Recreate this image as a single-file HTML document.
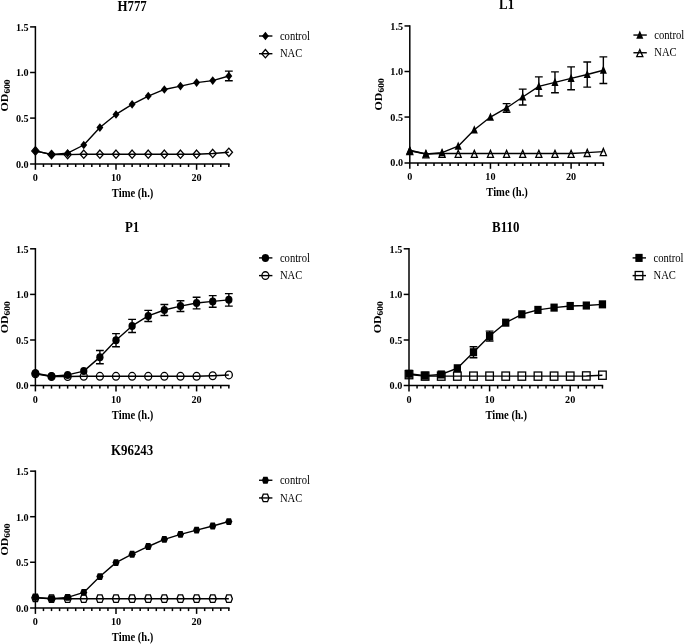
<!DOCTYPE html>
<html><head><meta charset="utf-8"><style>
html,body{margin:0;padding:0;background:#fff;}
body{width:685px;height:644px;overflow:hidden;}
svg{display:block;filter:grayscale(1);}
text{font-family:"Liberation Serif",serif;fill:#000;}
.tt{font-size:12.9px;font-weight:bold;}
.tk{font-size:10.2px;font-weight:bold;}
.xl{font-size:10.6px;font-weight:bold;}
.od{font-size:11px;font-weight:bold;}
.sub{font-size:8.8px;}
.lg{font-size:10.6px;}
</style></head><body>
<svg width="685" height="644" viewBox="0 0 685 644">
<rect width="685" height="644" fill="#fff"/>
<g><path d="M35.4 26.15V169.8" stroke="#000" stroke-width="1.5" fill="none"/><path d="M30.1 164H229.59" stroke="#000" stroke-width="1.5" fill="none"/><path d="M30.1 118.1H35.4" stroke="#000" stroke-width="1.5"/><path d="M30.1 72.5H35.4" stroke="#000" stroke-width="1.5"/><path d="M30.1 26.9H35.4" stroke="#000" stroke-width="1.5"/><path d="M43.46 164V167" stroke="#000" stroke-width="1.5"/><path d="M51.52 164V167" stroke="#000" stroke-width="1.5"/><path d="M59.58 164V167" stroke="#000" stroke-width="1.5"/><path d="M67.64 164V167" stroke="#000" stroke-width="1.5"/><path d="M75.7 164V167" stroke="#000" stroke-width="1.5"/><path d="M83.76 164V167" stroke="#000" stroke-width="1.5"/><path d="M91.82 164V167" stroke="#000" stroke-width="1.5"/><path d="M99.88 164V167" stroke="#000" stroke-width="1.5"/><path d="M107.94 164V167" stroke="#000" stroke-width="1.5"/><path d="M116 164V169.8" stroke="#000" stroke-width="1.5"/><path d="M124.06 164V167" stroke="#000" stroke-width="1.5"/><path d="M132.12 164V167" stroke="#000" stroke-width="1.5"/><path d="M140.18 164V167" stroke="#000" stroke-width="1.5"/><path d="M148.24 164V167" stroke="#000" stroke-width="1.5"/><path d="M156.3 164V167" stroke="#000" stroke-width="1.5"/><path d="M164.36 164V167" stroke="#000" stroke-width="1.5"/><path d="M172.42 164V167" stroke="#000" stroke-width="1.5"/><path d="M180.48 164V167" stroke="#000" stroke-width="1.5"/><path d="M188.54 164V167" stroke="#000" stroke-width="1.5"/><path d="M196.6 164V169.8" stroke="#000" stroke-width="1.5"/><path d="M204.66 164V167" stroke="#000" stroke-width="1.5"/><path d="M212.72 164V167" stroke="#000" stroke-width="1.5"/><path d="M220.78 164V167" stroke="#000" stroke-width="1.5"/><path d="M228.84 164V167" stroke="#000" stroke-width="1.5"/><text transform="translate(28.7 167.5) scale(1 1.06)" text-anchor="end" class="tk">0.0</text><text transform="translate(28.7 121.9) scale(1 1.06)" text-anchor="end" class="tk">0.5</text><text transform="translate(28.7 76.3) scale(1 1.06)" text-anchor="end" class="tk">1.0</text><text transform="translate(28.7 30.7) scale(1 1.06)" text-anchor="end" class="tk">1.5</text><text transform="translate(35.4 180.8) scale(1 1.06)" text-anchor="middle" class="tk">0</text><text transform="translate(116 180.8) scale(1 1.06)" text-anchor="middle" class="tk">10</text><text transform="translate(196.6 180.8) scale(1 1.06)" text-anchor="middle" class="tk">20</text><text transform="translate(132.62 197) scale(1 1.1)" text-anchor="middle" class="xl">Time (h.)</text><text transform="translate(7.6 95.4) rotate(-90) scale(1.08 1)" text-anchor="middle" class="od">OD<tspan class="sub" dy="2">600</tspan></text><text transform="translate(132.12 10.6) scale(1 1.13)" text-anchor="middle" class="tt">H777</text><path d="M35.4 150.93L51.52 154.58L67.64 154.58L83.76 154.22L99.88 154.22L116 154.22L132.12 154.22L148.24 154.22L164.36 154.22L180.48 154.22L196.6 154.22L212.72 153.49L228.84 152.3" fill="none" stroke="#000" stroke-width="1.4" stroke-linejoin="round"/><path d="M35.4 146.78L39.05 150.93L35.4 155.08L31.75 150.93Z" fill="none" stroke="#000" stroke-width="1.3"/><path d="M51.52 150.43L55.17 154.58L51.52 158.73L47.87 154.58Z" fill="none" stroke="#000" stroke-width="1.3"/><path d="M67.64 150.43L71.29 154.58L67.64 158.73L63.99 154.58Z" fill="none" stroke="#000" stroke-width="1.3"/><path d="M83.76 150.07L87.41 154.22L83.76 158.37L80.11 154.22Z" fill="none" stroke="#000" stroke-width="1.3"/><path d="M99.88 150.07L103.53 154.22L99.88 158.37L96.23 154.22Z" fill="none" stroke="#000" stroke-width="1.3"/><path d="M116 150.07L119.65 154.22L116 158.37L112.35 154.22Z" fill="none" stroke="#000" stroke-width="1.3"/><path d="M132.12 150.07L135.77 154.22L132.12 158.37L128.47 154.22Z" fill="none" stroke="#000" stroke-width="1.3"/><path d="M148.24 150.07L151.89 154.22L148.24 158.37L144.59 154.22Z" fill="none" stroke="#000" stroke-width="1.3"/><path d="M164.36 150.07L168.01 154.22L164.36 158.37L160.71 154.22Z" fill="none" stroke="#000" stroke-width="1.3"/><path d="M180.48 150.07L184.13 154.22L180.48 158.37L176.83 154.22Z" fill="none" stroke="#000" stroke-width="1.3"/><path d="M196.6 150.07L200.25 154.22L196.6 158.37L192.95 154.22Z" fill="none" stroke="#000" stroke-width="1.3"/><path d="M212.72 149.34L216.37 153.49L212.72 157.64L209.07 153.49Z" fill="none" stroke="#000" stroke-width="1.3"/><path d="M228.84 148.15L232.49 152.3L228.84 156.45L225.19 152.3Z" fill="none" stroke="#000" stroke-width="1.3"/><path d="M35.4 151.02L51.52 154.4L67.64 153.21L83.76 145L99.88 127.58L116 114.45L132.12 104.33L148.24 96.03L164.36 89.46L180.48 86.09L196.6 82.62L212.72 80.62L228.84 75.97" fill="none" stroke="#000" stroke-width="1.4" stroke-linejoin="round"/><path d="M228.84 71.13V80.8 M224.94 71.13H232.74 M224.94 80.8H232.74" stroke="#000" stroke-width="1.4" fill="none"/><path d="M35.4 146.72L38.85 151.02L35.4 155.32L31.95 151.02Z"/><path d="M51.52 150.1L54.97 154.4L51.52 158.7L48.07 154.4Z"/><path d="M67.64 148.91L71.09 153.21L67.64 157.51L64.19 153.21Z"/><path d="M83.76 140.7L87.21 145L83.76 149.3L80.31 145Z"/><path d="M99.88 123.28L103.33 127.58L99.88 131.88L96.43 127.58Z"/><path d="M116 110.15L119.45 114.45L116 118.75L112.55 114.45Z"/><path d="M132.12 100.03L135.57 104.33L132.12 108.63L128.67 104.33Z"/><path d="M148.24 91.73L151.69 96.03L148.24 100.33L144.79 96.03Z"/><path d="M164.36 85.16L167.81 89.46L164.36 93.76L160.91 89.46Z"/><path d="M180.48 81.79L183.93 86.09L180.48 90.39L177.03 86.09Z"/><path d="M196.6 78.32L200.05 82.62L196.6 86.92L193.15 82.62Z"/><path d="M212.72 76.32L216.17 80.62L212.72 84.92L209.27 80.62Z"/><path d="M228.84 71.67L232.29 75.97L228.84 80.27L225.39 75.97Z"/><path d="M259 36H272.4" stroke="#000" stroke-width="1.4"/><path d="M265.4 31.7L268.85 36L265.4 40.3L261.95 36Z"/><text transform="translate(279.9 39.7) scale(1 1.1)" class="lg">control</text><path d="M259 53.7H272.4" stroke="#000" stroke-width="1.4"/><path d="M265.4 49.55L269.05 53.7L265.4 57.85L261.75 53.7Z" fill="none" stroke="#000" stroke-width="1.3"/><text transform="translate(279.9 57.4) scale(1 1.1)" class="lg">NAC</text></g>
<g><path d="M409.8 25.2V168.8" stroke="#000" stroke-width="1.5" fill="none"/><path d="M404.5 163H604.11" stroke="#000" stroke-width="1.5" fill="none"/><path d="M404.5 117.05H409.8" stroke="#000" stroke-width="1.5"/><path d="M404.5 71.5H409.8" stroke="#000" stroke-width="1.5"/><path d="M404.5 25.95H409.8" stroke="#000" stroke-width="1.5"/><path d="M417.87 163V166" stroke="#000" stroke-width="1.5"/><path d="M425.93 163V166" stroke="#000" stroke-width="1.5"/><path d="M434 163V166" stroke="#000" stroke-width="1.5"/><path d="M442.06 163V166" stroke="#000" stroke-width="1.5"/><path d="M450.12 163V166" stroke="#000" stroke-width="1.5"/><path d="M458.19 163V166" stroke="#000" stroke-width="1.5"/><path d="M466.25 163V166" stroke="#000" stroke-width="1.5"/><path d="M474.32 163V166" stroke="#000" stroke-width="1.5"/><path d="M482.38 163V166" stroke="#000" stroke-width="1.5"/><path d="M490.45 163V168.8" stroke="#000" stroke-width="1.5"/><path d="M498.51 163V166" stroke="#000" stroke-width="1.5"/><path d="M506.58 163V166" stroke="#000" stroke-width="1.5"/><path d="M514.64 163V166" stroke="#000" stroke-width="1.5"/><path d="M522.71 163V166" stroke="#000" stroke-width="1.5"/><path d="M530.77 163V166" stroke="#000" stroke-width="1.5"/><path d="M538.84 163V166" stroke="#000" stroke-width="1.5"/><path d="M546.9 163V166" stroke="#000" stroke-width="1.5"/><path d="M554.97 163V166" stroke="#000" stroke-width="1.5"/><path d="M563.03 163V166" stroke="#000" stroke-width="1.5"/><path d="M571.1 163V168.8" stroke="#000" stroke-width="1.5"/><path d="M579.16 163V166" stroke="#000" stroke-width="1.5"/><path d="M587.23 163V166" stroke="#000" stroke-width="1.5"/><path d="M595.29 163V166" stroke="#000" stroke-width="1.5"/><path d="M603.36 163V166" stroke="#000" stroke-width="1.5"/><text transform="translate(403.1 166.4) scale(1 1.06)" text-anchor="end" class="tk">0.0</text><text transform="translate(403.1 120.85) scale(1 1.06)" text-anchor="end" class="tk">0.5</text><text transform="translate(403.1 75.3) scale(1 1.06)" text-anchor="end" class="tk">1.0</text><text transform="translate(403.1 29.75) scale(1 1.06)" text-anchor="end" class="tk">1.5</text><text transform="translate(409.8 179.7) scale(1 1.06)" text-anchor="middle" class="tk">0</text><text transform="translate(490.45 179.7) scale(1 1.06)" text-anchor="middle" class="tk">10</text><text transform="translate(571.1 179.7) scale(1 1.06)" text-anchor="middle" class="tk">20</text><text transform="translate(507.08 195.9) scale(1 1.1)" text-anchor="middle" class="xl">Time (h.)</text><text transform="translate(382 94.38) rotate(-90) scale(1.08 1)" text-anchor="middle" class="od">OD<tspan class="sub" dy="2">600</tspan></text><text transform="translate(506.58 9.15) scale(1 1.13)" text-anchor="middle" class="tt">L1</text><path d="M409.8 150.76L425.93 153.95L442.06 153.49L458.19 153.49L474.32 153.49L490.45 153.49L506.58 153.49L522.71 153.49L538.84 153.49L554.97 153.49L571.1 153.49L587.23 152.58L603.36 151.67" fill="none" stroke="#000" stroke-width="1.4" stroke-linejoin="round"/><path d="M409.8 147.56L412.85 154.66L406.75 154.66Z" fill="none" stroke="#000" stroke-width="1.3"/><path d="M425.93 150.75L428.98 157.85L422.88 157.85Z" fill="none" stroke="#000" stroke-width="1.3"/><path d="M442.06 150.29L445.11 157.39L439.01 157.39Z" fill="none" stroke="#000" stroke-width="1.3"/><path d="M458.19 150.29L461.24 157.39L455.14 157.39Z" fill="none" stroke="#000" stroke-width="1.3"/><path d="M474.32 150.29L477.37 157.39L471.27 157.39Z" fill="none" stroke="#000" stroke-width="1.3"/><path d="M490.45 150.29L493.5 157.39L487.4 157.39Z" fill="none" stroke="#000" stroke-width="1.3"/><path d="M506.58 150.29L509.63 157.39L503.53 157.39Z" fill="none" stroke="#000" stroke-width="1.3"/><path d="M522.71 150.29L525.76 157.39L519.66 157.39Z" fill="none" stroke="#000" stroke-width="1.3"/><path d="M538.84 150.29L541.89 157.39L535.79 157.39Z" fill="none" stroke="#000" stroke-width="1.3"/><path d="M554.97 150.29L558.02 157.39L551.92 157.39Z" fill="none" stroke="#000" stroke-width="1.3"/><path d="M571.1 150.29L574.15 157.39L568.05 157.39Z" fill="none" stroke="#000" stroke-width="1.3"/><path d="M587.23 149.38L590.28 156.48L584.18 156.48Z" fill="none" stroke="#000" stroke-width="1.3"/><path d="M603.36 148.47L606.41 155.57L600.31 155.57Z" fill="none" stroke="#000" stroke-width="1.3"/><path d="M409.8 150.3L425.93 153.95L442.06 152.58L458.19 146.2L474.32 129.8L490.45 117.05L506.58 107.94L522.71 97.01L538.84 86.44L554.97 82.34L571.1 78.33L587.23 74.51L603.36 70.22" fill="none" stroke="#000" stroke-width="1.4" stroke-linejoin="round"/><path d="M506.58 103.66V112.22 M502.68 103.66H510.48 M502.68 112.22H510.48" stroke="#000" stroke-width="1.4" fill="none"/><path d="M522.71 89.08V104.93 M518.81 89.08H526.61 M518.81 104.93H526.61" stroke="#000" stroke-width="1.4" fill="none"/><path d="M538.84 76.87V96.01 M534.94 76.87H542.74 M534.94 96.01H542.74" stroke="#000" stroke-width="1.4" fill="none"/><path d="M554.97 71.86V92.82 M551.07 71.86H558.87 M551.07 92.82H558.87" stroke="#000" stroke-width="1.4" fill="none"/><path d="M571.1 66.85V89.81 M567.2 66.85H575 M567.2 89.81H575" stroke="#000" stroke-width="1.4" fill="none"/><path d="M587.23 61.93V87.08 M583.33 61.93H591.13 M583.33 87.08H591.13" stroke="#000" stroke-width="1.4" fill="none"/><path d="M603.36 56.92V83.53 M599.46 56.92H607.26 M599.46 83.53H607.26" stroke="#000" stroke-width="1.4" fill="none"/><path d="M409.8 145.7L413.35 153.9L406.25 153.9Z"/><path d="M425.93 149.35L429.48 157.55L422.38 157.55Z"/><path d="M442.06 147.98L445.61 156.18L438.51 156.18Z"/><path d="M458.19 141.6L461.74 149.8L454.64 149.8Z"/><path d="M474.32 125.2L477.87 133.4L470.77 133.4Z"/><path d="M490.45 112.45L494 120.65L486.9 120.65Z"/><path d="M506.58 103.34L510.13 111.54L503.03 111.54Z"/><path d="M522.71 92.41L526.26 100.61L519.16 100.61Z"/><path d="M538.84 81.84L542.39 90.04L535.29 90.04Z"/><path d="M554.97 77.74L558.52 85.94L551.42 85.94Z"/><path d="M571.1 73.73L574.65 81.93L567.55 81.93Z"/><path d="M587.23 69.91L590.78 78.11L583.68 78.11Z"/><path d="M603.36 65.62L606.91 73.82L599.81 73.82Z"/><path d="M633.4 35.05H646.8" stroke="#000" stroke-width="1.4"/><path d="M639.8 30.45L643.35 38.65L636.25 38.65Z"/><text transform="translate(654.3 38.75) scale(1 1.1)" class="lg">control</text><path d="M633.4 52.75H646.8" stroke="#000" stroke-width="1.4"/><path d="M639.8 49.55L642.85 56.65L636.75 56.65Z" fill="none" stroke="#000" stroke-width="1.3"/><text transform="translate(654.3 56.45) scale(1 1.1)" class="lg">NAC</text></g>
<g><path d="M35.4 248.05V391.4" stroke="#000" stroke-width="1.5" fill="none"/><path d="M30.1 385.6H229.59" stroke="#000" stroke-width="1.5" fill="none"/><path d="M30.1 340H35.4" stroke="#000" stroke-width="1.5"/><path d="M30.1 294.4H35.4" stroke="#000" stroke-width="1.5"/><path d="M30.1 248.8H35.4" stroke="#000" stroke-width="1.5"/><path d="M43.46 385.6V388.6" stroke="#000" stroke-width="1.5"/><path d="M51.52 385.6V388.6" stroke="#000" stroke-width="1.5"/><path d="M59.58 385.6V388.6" stroke="#000" stroke-width="1.5"/><path d="M67.64 385.6V388.6" stroke="#000" stroke-width="1.5"/><path d="M75.7 385.6V388.6" stroke="#000" stroke-width="1.5"/><path d="M83.76 385.6V388.6" stroke="#000" stroke-width="1.5"/><path d="M91.82 385.6V388.6" stroke="#000" stroke-width="1.5"/><path d="M99.88 385.6V388.6" stroke="#000" stroke-width="1.5"/><path d="M107.94 385.6V388.6" stroke="#000" stroke-width="1.5"/><path d="M116 385.6V391.4" stroke="#000" stroke-width="1.5"/><path d="M124.06 385.6V388.6" stroke="#000" stroke-width="1.5"/><path d="M132.12 385.6V388.6" stroke="#000" stroke-width="1.5"/><path d="M140.18 385.6V388.6" stroke="#000" stroke-width="1.5"/><path d="M148.24 385.6V388.6" stroke="#000" stroke-width="1.5"/><path d="M156.3 385.6V388.6" stroke="#000" stroke-width="1.5"/><path d="M164.36 385.6V388.6" stroke="#000" stroke-width="1.5"/><path d="M172.42 385.6V388.6" stroke="#000" stroke-width="1.5"/><path d="M180.48 385.6V388.6" stroke="#000" stroke-width="1.5"/><path d="M188.54 385.6V388.6" stroke="#000" stroke-width="1.5"/><path d="M196.6 385.6V391.4" stroke="#000" stroke-width="1.5"/><path d="M204.66 385.6V388.6" stroke="#000" stroke-width="1.5"/><path d="M212.72 385.6V388.6" stroke="#000" stroke-width="1.5"/><path d="M220.78 385.6V388.6" stroke="#000" stroke-width="1.5"/><path d="M228.84 385.6V388.6" stroke="#000" stroke-width="1.5"/><text transform="translate(28.7 389.4) scale(1 1.06)" text-anchor="end" class="tk">0.0</text><text transform="translate(28.7 343.8) scale(1 1.06)" text-anchor="end" class="tk">0.5</text><text transform="translate(28.7 298.2) scale(1 1.06)" text-anchor="end" class="tk">1.0</text><text transform="translate(28.7 252.6) scale(1 1.06)" text-anchor="end" class="tk">1.5</text><text transform="translate(35.4 402.7) scale(1 1.06)" text-anchor="middle" class="tk">0</text><text transform="translate(116 402.7) scale(1 1.06)" text-anchor="middle" class="tk">10</text><text transform="translate(196.6 402.7) scale(1 1.06)" text-anchor="middle" class="tk">20</text><text transform="translate(132.62 418.9) scale(1 1.1)" text-anchor="middle" class="xl">Time (h.)</text><text transform="translate(7.6 317.3) rotate(-90) scale(1.08 1)" text-anchor="middle" class="od">OD<tspan class="sub" dy="2">600</tspan></text><text transform="translate(132.12 231.8) scale(1 1.13)" text-anchor="middle" class="tt">P1</text><path d="M35.4 373.74L51.52 376.48L67.64 376.48L83.76 376.3L99.88 376.3L116 376.3L132.12 376.3L148.24 376.3L164.36 376.3L180.48 376.3L196.6 376.3L212.72 375.75L228.84 374.93" fill="none" stroke="#000" stroke-width="1.4" stroke-linejoin="round"/><ellipse cx="35.4" cy="373.74" rx="3.5" ry="3.85" fill="none" stroke="#000" stroke-width="1.3"/><ellipse cx="51.52" cy="376.48" rx="3.5" ry="3.85" fill="none" stroke="#000" stroke-width="1.3"/><ellipse cx="67.64" cy="376.48" rx="3.5" ry="3.85" fill="none" stroke="#000" stroke-width="1.3"/><ellipse cx="83.76" cy="376.3" rx="3.5" ry="3.85" fill="none" stroke="#000" stroke-width="1.3"/><ellipse cx="99.88" cy="376.3" rx="3.5" ry="3.85" fill="none" stroke="#000" stroke-width="1.3"/><ellipse cx="116" cy="376.3" rx="3.5" ry="3.85" fill="none" stroke="#000" stroke-width="1.3"/><ellipse cx="132.12" cy="376.3" rx="3.5" ry="3.85" fill="none" stroke="#000" stroke-width="1.3"/><ellipse cx="148.24" cy="376.3" rx="3.5" ry="3.85" fill="none" stroke="#000" stroke-width="1.3"/><ellipse cx="164.36" cy="376.3" rx="3.5" ry="3.85" fill="none" stroke="#000" stroke-width="1.3"/><ellipse cx="180.48" cy="376.3" rx="3.5" ry="3.85" fill="none" stroke="#000" stroke-width="1.3"/><ellipse cx="196.6" cy="376.3" rx="3.5" ry="3.85" fill="none" stroke="#000" stroke-width="1.3"/><ellipse cx="212.72" cy="375.75" rx="3.5" ry="3.85" fill="none" stroke="#000" stroke-width="1.3"/><ellipse cx="228.84" cy="374.93" rx="3.5" ry="3.85" fill="none" stroke="#000" stroke-width="1.3"/><path d="M35.4 373.2L51.52 376.3L67.64 374.93L83.76 371.1L99.88 357.15L116 340.18L132.12 325.96L148.24 315.92L164.36 310L180.48 306.07L196.6 303.06L212.72 301.42L228.84 299.87" fill="none" stroke="#000" stroke-width="1.4" stroke-linejoin="round"/><path d="M99.88 350.49V363.8 M95.98 350.49H103.78 M95.98 363.8H103.78" stroke="#000" stroke-width="1.4" fill="none"/><path d="M116 333.62V346.75 M112.1 333.62H119.9 M112.1 346.75H119.9" stroke="#000" stroke-width="1.4" fill="none"/><path d="M132.12 319.39V332.52 M128.22 319.39H136.02 M128.22 332.52H136.02" stroke="#000" stroke-width="1.4" fill="none"/><path d="M148.24 310.36V321.49 M144.34 310.36H152.14 M144.34 321.49H152.14" stroke="#000" stroke-width="1.4" fill="none"/><path d="M164.36 304.43V315.56 M160.46 304.43H168.26 M160.46 315.56H168.26" stroke="#000" stroke-width="1.4" fill="none"/><path d="M180.48 300.69V311.45 M176.58 300.69H184.38 M176.58 311.45H184.38" stroke="#000" stroke-width="1.4" fill="none"/><path d="M196.6 297.23V308.9 M192.7 297.23H200.5 M192.7 308.9H200.5" stroke="#000" stroke-width="1.4" fill="none"/><path d="M212.72 295.59V307.26 M208.82 295.59H216.62 M208.82 307.26H216.62" stroke="#000" stroke-width="1.4" fill="none"/><path d="M228.84 293.58V306.16 M224.94 293.58H232.74 M224.94 306.16H232.74" stroke="#000" stroke-width="1.4" fill="none"/><ellipse cx="35.4" cy="373.2" rx="3.65" ry="4"/><ellipse cx="51.52" cy="376.3" rx="3.65" ry="4"/><ellipse cx="67.64" cy="374.93" rx="3.65" ry="4"/><ellipse cx="83.76" cy="371.1" rx="3.65" ry="4"/><ellipse cx="99.88" cy="357.15" rx="3.65" ry="4"/><ellipse cx="116" cy="340.18" rx="3.65" ry="4"/><ellipse cx="132.12" cy="325.96" rx="3.65" ry="4"/><ellipse cx="148.24" cy="315.92" rx="3.65" ry="4"/><ellipse cx="164.36" cy="310" rx="3.65" ry="4"/><ellipse cx="180.48" cy="306.07" rx="3.65" ry="4"/><ellipse cx="196.6" cy="303.06" rx="3.65" ry="4"/><ellipse cx="212.72" cy="301.42" rx="3.65" ry="4"/><ellipse cx="228.84" cy="299.87" rx="3.65" ry="4"/><path d="M259 257.9H272.4" stroke="#000" stroke-width="1.4"/><ellipse cx="265.4" cy="257.9" rx="3.65" ry="4"/><text transform="translate(279.9 261.6) scale(1 1.1)" class="lg">control</text><path d="M259 275.6H272.4" stroke="#000" stroke-width="1.4"/><ellipse cx="265.4" cy="275.6" rx="3.5" ry="3.85" fill="none" stroke="#000" stroke-width="1.3"/><text transform="translate(279.9 279.3) scale(1 1.1)" class="lg">NAC</text></g>
<g><path d="M409 248.05V391.4" stroke="#000" stroke-width="1.5" fill="none"/><path d="M403.7 385.6H603.19" stroke="#000" stroke-width="1.5" fill="none"/><path d="M403.7 340H409" stroke="#000" stroke-width="1.5"/><path d="M403.7 294.4H409" stroke="#000" stroke-width="1.5"/><path d="M403.7 248.8H409" stroke="#000" stroke-width="1.5"/><path d="M417.06 385.6V388.6" stroke="#000" stroke-width="1.5"/><path d="M425.12 385.6V388.6" stroke="#000" stroke-width="1.5"/><path d="M433.18 385.6V388.6" stroke="#000" stroke-width="1.5"/><path d="M441.24 385.6V388.6" stroke="#000" stroke-width="1.5"/><path d="M449.3 385.6V388.6" stroke="#000" stroke-width="1.5"/><path d="M457.36 385.6V388.6" stroke="#000" stroke-width="1.5"/><path d="M465.42 385.6V388.6" stroke="#000" stroke-width="1.5"/><path d="M473.48 385.6V388.6" stroke="#000" stroke-width="1.5"/><path d="M481.54 385.6V388.6" stroke="#000" stroke-width="1.5"/><path d="M489.6 385.6V391.4" stroke="#000" stroke-width="1.5"/><path d="M497.66 385.6V388.6" stroke="#000" stroke-width="1.5"/><path d="M505.72 385.6V388.6" stroke="#000" stroke-width="1.5"/><path d="M513.78 385.6V388.6" stroke="#000" stroke-width="1.5"/><path d="M521.84 385.6V388.6" stroke="#000" stroke-width="1.5"/><path d="M529.9 385.6V388.6" stroke="#000" stroke-width="1.5"/><path d="M537.96 385.6V388.6" stroke="#000" stroke-width="1.5"/><path d="M546.02 385.6V388.6" stroke="#000" stroke-width="1.5"/><path d="M554.08 385.6V388.6" stroke="#000" stroke-width="1.5"/><path d="M562.14 385.6V388.6" stroke="#000" stroke-width="1.5"/><path d="M570.2 385.6V391.4" stroke="#000" stroke-width="1.5"/><path d="M578.26 385.6V388.6" stroke="#000" stroke-width="1.5"/><path d="M586.32 385.6V388.6" stroke="#000" stroke-width="1.5"/><path d="M594.38 385.6V388.6" stroke="#000" stroke-width="1.5"/><path d="M602.44 385.6V388.6" stroke="#000" stroke-width="1.5"/><text transform="translate(402.3 389.4) scale(1 1.06)" text-anchor="end" class="tk">0.0</text><text transform="translate(402.3 343.8) scale(1 1.06)" text-anchor="end" class="tk">0.5</text><text transform="translate(402.3 298.2) scale(1 1.06)" text-anchor="end" class="tk">1.0</text><text transform="translate(402.3 252.6) scale(1 1.06)" text-anchor="end" class="tk">1.5</text><text transform="translate(409 402.7) scale(1 1.06)" text-anchor="middle" class="tk">0</text><text transform="translate(489.6 402.7) scale(1 1.06)" text-anchor="middle" class="tk">10</text><text transform="translate(570.2 402.7) scale(1 1.06)" text-anchor="middle" class="tk">20</text><text transform="translate(506.22 418.9) scale(1 1.1)" text-anchor="middle" class="xl">Time (h.)</text><text transform="translate(381.2 317.3) rotate(-90) scale(1.08 1)" text-anchor="middle" class="od">OD<tspan class="sub" dy="2">600</tspan></text><text transform="translate(505.72 231.9) scale(1 1.13)" text-anchor="middle" class="tt">B110</text><path d="M409 374.66L425.12 376.12L441.24 376.12L457.36 376.12L473.48 376.12L489.6 376.12L505.72 376.12L521.84 376.12L537.96 376.12L554.08 376.12L570.2 376.12L586.32 375.93L602.44 375.2" fill="none" stroke="#000" stroke-width="1.4" stroke-linejoin="round"/><rect x="405.2" y="370.56" width="7.6" height="8.2" fill="none" stroke="#000" stroke-width="1.3"/><rect x="421.32" y="372.02" width="7.6" height="8.2" fill="none" stroke="#000" stroke-width="1.3"/><rect x="437.44" y="372.02" width="7.6" height="8.2" fill="none" stroke="#000" stroke-width="1.3"/><rect x="453.56" y="372.02" width="7.6" height="8.2" fill="none" stroke="#000" stroke-width="1.3"/><rect x="469.68" y="372.02" width="7.6" height="8.2" fill="none" stroke="#000" stroke-width="1.3"/><rect x="485.8" y="372.02" width="7.6" height="8.2" fill="none" stroke="#000" stroke-width="1.3"/><rect x="501.92" y="372.02" width="7.6" height="8.2" fill="none" stroke="#000" stroke-width="1.3"/><rect x="518.04" y="372.02" width="7.6" height="8.2" fill="none" stroke="#000" stroke-width="1.3"/><rect x="534.16" y="372.02" width="7.6" height="8.2" fill="none" stroke="#000" stroke-width="1.3"/><rect x="550.28" y="372.02" width="7.6" height="8.2" fill="none" stroke="#000" stroke-width="1.3"/><rect x="566.4" y="372.02" width="7.6" height="8.2" fill="none" stroke="#000" stroke-width="1.3"/><rect x="582.52" y="371.83" width="7.6" height="8.2" fill="none" stroke="#000" stroke-width="1.3"/><rect x="598.64" y="371.1" width="7.6" height="8.2" fill="none" stroke="#000" stroke-width="1.3"/><path d="M409 373.74L425.12 375.66L441.24 374.47L457.36 368.27L473.48 352.22L489.6 336.08L505.72 322.67L521.84 314.28L537.96 309.9L554.08 307.62L570.2 305.98L586.32 305.53L602.44 304.34" fill="none" stroke="#000" stroke-width="1.4" stroke-linejoin="round"/><path d="M473.48 346.75V357.69 M469.58 346.75H477.38 M469.58 357.69H477.38" stroke="#000" stroke-width="1.4" fill="none"/><path d="M489.6 331.15V341 M485.7 331.15H493.5 M485.7 341H493.5" stroke="#000" stroke-width="1.4" fill="none"/><rect x="405.35" y="369.69" width="7.3" height="8.1"/><rect x="421.47" y="371.61" width="7.3" height="8.1"/><rect x="437.59" y="370.42" width="7.3" height="8.1"/><rect x="453.71" y="364.22" width="7.3" height="8.1"/><rect x="469.83" y="348.17" width="7.3" height="8.1"/><rect x="485.95" y="332.03" width="7.3" height="8.1"/><rect x="502.07" y="318.62" width="7.3" height="8.1"/><rect x="518.19" y="310.23" width="7.3" height="8.1"/><rect x="534.31" y="305.85" width="7.3" height="8.1"/><rect x="550.43" y="303.57" width="7.3" height="8.1"/><rect x="566.55" y="301.93" width="7.3" height="8.1"/><rect x="582.67" y="301.48" width="7.3" height="8.1"/><rect x="598.79" y="300.29" width="7.3" height="8.1"/><path d="M632.6 257.9H646" stroke="#000" stroke-width="1.4"/><rect x="635.35" y="253.85" width="7.3" height="8.1"/><text transform="translate(653.5 261.6) scale(1 1.1)" class="lg">control</text><path d="M632.6 275.6H646" stroke="#000" stroke-width="1.4"/><rect x="635.2" y="271.5" width="7.6" height="8.2" fill="none" stroke="#000" stroke-width="1.3"/><text transform="translate(653.5 279.3) scale(1 1.1)" class="lg">NAC</text></g>
<g><path d="M35.4 470.4V613.9" stroke="#000" stroke-width="1.5" fill="none"/><path d="M30.1 608.1H229.59" stroke="#000" stroke-width="1.5" fill="none"/><path d="M30.1 562.25H35.4" stroke="#000" stroke-width="1.5"/><path d="M30.1 516.7H35.4" stroke="#000" stroke-width="1.5"/><path d="M30.1 471.15H35.4" stroke="#000" stroke-width="1.5"/><path d="M43.46 608.1V611.1" stroke="#000" stroke-width="1.5"/><path d="M51.52 608.1V611.1" stroke="#000" stroke-width="1.5"/><path d="M59.58 608.1V611.1" stroke="#000" stroke-width="1.5"/><path d="M67.64 608.1V611.1" stroke="#000" stroke-width="1.5"/><path d="M75.7 608.1V611.1" stroke="#000" stroke-width="1.5"/><path d="M83.76 608.1V611.1" stroke="#000" stroke-width="1.5"/><path d="M91.82 608.1V611.1" stroke="#000" stroke-width="1.5"/><path d="M99.88 608.1V611.1" stroke="#000" stroke-width="1.5"/><path d="M107.94 608.1V611.1" stroke="#000" stroke-width="1.5"/><path d="M116 608.1V613.9" stroke="#000" stroke-width="1.5"/><path d="M124.06 608.1V611.1" stroke="#000" stroke-width="1.5"/><path d="M132.12 608.1V611.1" stroke="#000" stroke-width="1.5"/><path d="M140.18 608.1V611.1" stroke="#000" stroke-width="1.5"/><path d="M148.24 608.1V611.1" stroke="#000" stroke-width="1.5"/><path d="M156.3 608.1V611.1" stroke="#000" stroke-width="1.5"/><path d="M164.36 608.1V611.1" stroke="#000" stroke-width="1.5"/><path d="M172.42 608.1V611.1" stroke="#000" stroke-width="1.5"/><path d="M180.48 608.1V611.1" stroke="#000" stroke-width="1.5"/><path d="M188.54 608.1V611.1" stroke="#000" stroke-width="1.5"/><path d="M196.6 608.1V613.9" stroke="#000" stroke-width="1.5"/><path d="M204.66 608.1V611.1" stroke="#000" stroke-width="1.5"/><path d="M212.72 608.1V611.1" stroke="#000" stroke-width="1.5"/><path d="M220.78 608.1V611.1" stroke="#000" stroke-width="1.5"/><path d="M228.84 608.1V611.1" stroke="#000" stroke-width="1.5"/><text transform="translate(28.7 611.6) scale(1 1.06)" text-anchor="end" class="tk">0.0</text><text transform="translate(28.7 566.05) scale(1 1.06)" text-anchor="end" class="tk">0.5</text><text transform="translate(28.7 520.5) scale(1 1.06)" text-anchor="end" class="tk">1.0</text><text transform="translate(28.7 474.95) scale(1 1.06)" text-anchor="end" class="tk">1.5</text><text transform="translate(35.4 624.9) scale(1 1.06)" text-anchor="middle" class="tk">0</text><text transform="translate(116 624.9) scale(1 1.06)" text-anchor="middle" class="tk">10</text><text transform="translate(196.6 624.9) scale(1 1.06)" text-anchor="middle" class="tk">20</text><text transform="translate(132.62 641.1) scale(1 1.1)" text-anchor="middle" class="xl">Time (h.)</text><text transform="translate(7.6 539.57) rotate(-90) scale(1.08 1)" text-anchor="middle" class="od">OD<tspan class="sub" dy="2">600</tspan></text><text transform="translate(132.12 454.55) scale(1 1.13)" text-anchor="middle" class="tt">K96243</text><path d="M35.4 597.78L51.52 598.69L67.64 598.69L83.76 598.69L99.88 598.69L116 598.69L132.12 598.69L148.24 598.69L164.36 598.69L180.48 598.69L196.6 598.69L212.72 598.69L228.84 598.69" fill="none" stroke="#000" stroke-width="1.4" stroke-linejoin="round"/><path d="M31.85 597.78L33.3 594.03L37.5 594.03L38.95 597.78L37.5 601.53L33.3 601.53Z" fill="none" stroke="#000" stroke-width="1.3"/><path d="M47.97 598.69L49.42 594.94L53.62 594.94L55.07 598.69L53.62 602.44L49.42 602.44Z" fill="none" stroke="#000" stroke-width="1.3"/><path d="M64.09 598.69L65.54 594.94L69.74 594.94L71.19 598.69L69.74 602.44L65.54 602.44Z" fill="none" stroke="#000" stroke-width="1.3"/><path d="M80.21 598.69L81.66 594.94L85.86 594.94L87.31 598.69L85.86 602.44L81.66 602.44Z" fill="none" stroke="#000" stroke-width="1.3"/><path d="M96.33 598.69L97.78 594.94L101.98 594.94L103.43 598.69L101.98 602.44L97.78 602.44Z" fill="none" stroke="#000" stroke-width="1.3"/><path d="M112.45 598.69L113.9 594.94L118.1 594.94L119.55 598.69L118.1 602.44L113.9 602.44Z" fill="none" stroke="#000" stroke-width="1.3"/><path d="M128.57 598.69L130.02 594.94L134.22 594.94L135.67 598.69L134.22 602.44L130.02 602.44Z" fill="none" stroke="#000" stroke-width="1.3"/><path d="M144.69 598.69L146.14 594.94L150.34 594.94L151.79 598.69L150.34 602.44L146.14 602.44Z" fill="none" stroke="#000" stroke-width="1.3"/><path d="M160.81 598.69L162.26 594.94L166.46 594.94L167.91 598.69L166.46 602.44L162.26 602.44Z" fill="none" stroke="#000" stroke-width="1.3"/><path d="M176.93 598.69L178.38 594.94L182.58 594.94L184.03 598.69L182.58 602.44L178.38 602.44Z" fill="none" stroke="#000" stroke-width="1.3"/><path d="M193.05 598.69L194.5 594.94L198.7 594.94L200.15 598.69L198.7 602.44L194.5 602.44Z" fill="none" stroke="#000" stroke-width="1.3"/><path d="M209.17 598.69L210.62 594.94L214.82 594.94L216.27 598.69L214.82 602.44L210.62 602.44Z" fill="none" stroke="#000" stroke-width="1.3"/><path d="M225.29 598.69L226.74 594.94L230.94 594.94L232.39 598.69L230.94 602.44L226.74 602.44Z" fill="none" stroke="#000" stroke-width="1.3"/><path d="M35.4 597.41L51.52 598.69L67.64 597.41L83.76 592.4L99.88 576.55L116 562.61L132.12 554.23L148.24 546.49L164.36 539.38L180.48 534.37L196.6 530.09L212.72 525.99L228.84 521.53" fill="none" stroke="#000" stroke-width="1.4" stroke-linejoin="round"/><path d="M31.95 597.41L33.25 594.01L37.55 594.01L38.85 597.41L37.55 600.81L33.25 600.81Z"/><path d="M48.07 598.69L49.37 595.29L53.67 595.29L54.97 598.69L53.67 602.09L49.37 602.09Z"/><path d="M64.19 597.41L65.49 594.01L69.79 594.01L71.09 597.41L69.79 600.81L65.49 600.81Z"/><path d="M80.31 592.4L81.61 589L85.91 589L87.21 592.4L85.91 595.8L81.61 595.8Z"/><path d="M96.43 576.55L97.73 573.15L102.03 573.15L103.33 576.55L102.03 579.95L97.73 579.95Z"/><path d="M112.55 562.61L113.85 559.21L118.15 559.21L119.45 562.61L118.15 566.01L113.85 566.01Z"/><path d="M128.67 554.23L129.97 550.83L134.27 550.83L135.57 554.23L134.27 557.63L129.97 557.63Z"/><path d="M144.79 546.49L146.09 543.09L150.39 543.09L151.69 546.49L150.39 549.89L146.09 549.89Z"/><path d="M160.91 539.38L162.21 535.98L166.51 535.98L167.81 539.38L166.51 542.78L162.21 542.78Z"/><path d="M177.03 534.37L178.33 530.97L182.63 530.97L183.93 534.37L182.63 537.77L178.33 537.77Z"/><path d="M193.15 530.09L194.45 526.69L198.75 526.69L200.05 530.09L198.75 533.49L194.45 533.49Z"/><path d="M209.27 525.99L210.57 522.59L214.87 522.59L216.17 525.99L214.87 529.39L210.57 529.39Z"/><path d="M225.39 521.53L226.69 518.13L230.99 518.13L232.29 521.53L230.99 524.93L226.69 524.93Z"/><path d="M259 480.25H272.4" stroke="#000" stroke-width="1.4"/><path d="M261.95 480.25L263.25 476.85L267.55 476.85L268.85 480.25L267.55 483.65L263.25 483.65Z"/><text transform="translate(279.9 483.95) scale(1 1.1)" class="lg">control</text><path d="M259 497.95H272.4" stroke="#000" stroke-width="1.4"/><path d="M261.85 497.95L263.3 494.2L267.5 494.2L268.95 497.95L267.5 501.7L263.3 501.7Z" fill="none" stroke="#000" stroke-width="1.3"/><text transform="translate(279.9 501.65) scale(1 1.1)" class="lg">NAC</text></g>
</svg>
</body></html>
